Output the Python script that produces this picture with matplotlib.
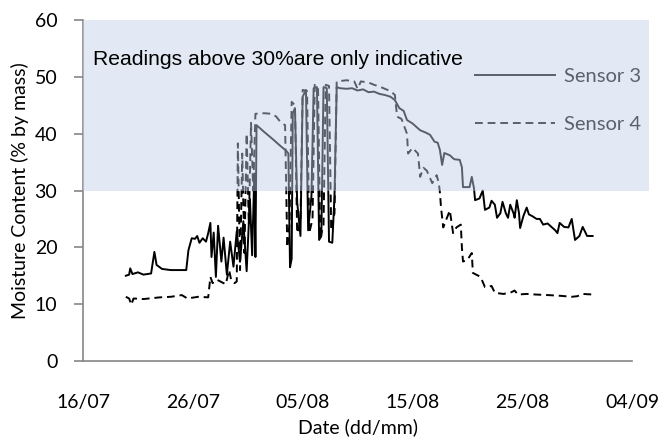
import matplotlib
matplotlib.use("Agg")
import matplotlib.pyplot as plt
from matplotlib.lines import Line2D

# x = days after 16/07, y = moisture content (% by mass)
s3_day = [3.9, 4.2, 4.3, 4.5, 5.0, 5.5, 6.2, 6.5, 6.7, 7.2, 8.0, 9.4, 9.6, 9.9, 10.2,
          10.4, 10.6, 10.9, 11.2, 11.4, 11.6, 11.7, 11.9, 12.1, 12.3, 12.6, 12.8, 13.1,
          13.4, 13.7, 14.0, 14.3, 14.6, 14.9, 15.2, 15.4, 15.6, 15.7, 15.8, 16.5, 17.3,
          18.0, 18.5, 18.7, 18.85, 19.0, 19.1, 19.3, 19.5, 19.8, 20.0, 20.3, 20.5, 20.8,
          21.0, 21.3, 21.5, 21.7, 21.9, 22.2, 22.4, 22.7, 22.9, 23.1, 23.4, 24.0, 24.5,
          25.0, 25.5, 26.0, 26.5, 27.0, 27.5, 28.0, 28.4, 28.8, 29.2, 29.5, 30.0, 30.7,
          31.2, 31.6, 32.0, 32.3, 32.5, 32.7, 32.9, 33.4, 33.8, 34.3, 34.5, 34.6, 35.2,
          35.4, 35.6, 35.7, 36.1, 36.4, 36.6, 37.0, 37.2, 37.5, 37.7, 38.0, 38.2, 38.5,
          38.7, 38.9, 39.2, 39.3, 39.5, 39.7, 39.8, 40.1, 40.4, 40.6, 40.9, 41.3, 41.6,
          41.9, 42.3, 42.7, 43.0, 43.2, 43.4, 43.8, 44.2, 44.5, 44.8, 45.2, 45.5, 45.9,
          46.4]
s3_val = [15.0, 15.2, 16.3, 15.3, 15.6, 15.2, 15.4, 19.2, 16.9, 16.2, 16.0, 16.0, 19.5,
          21.6, 21.5, 22.0, 20.8, 21.6, 21.0, 22.5, 24.3, 18.3, 22.6, 14.8, 23.8, 17.5,
          21.7, 15.2, 21.0, 16.6, 22.8, 17.5, 24.6, 15.8, 28.5, 18.6, 33.0, 18.3, 41.5,
          40.3, 39.0, 37.8, 37.0, 36.5, 16.5, 18.0, 43.6, 44.5, 28.0, 22.0, 46.5, 47.7,
          23.0, 29.0, 48.0, 48.2, 21.3, 22.0, 48.2, 48.0, 21.0, 20.8, 29.0, 48.2, 48.0,
          47.9, 48.0, 47.6, 47.8, 47.3, 47.4, 47.0, 46.8, 46.5, 45.9, 44.5, 44.0, 42.4,
          41.8, 40.6, 40.2, 39.8, 38.6, 38.4, 37.1, 34.5, 36.6, 36.2, 35.5, 35.4, 34.1,
          30.6, 30.6, 32.4, 30.4, 28.3, 28.6, 30.0, 26.6, 27.0, 28.2, 27.5, 25.2, 26.0,
          28.0, 26.0, 25.2, 27.5, 26.0, 25.2, 28.3, 26.0, 23.4, 25.5, 27.0, 25.8, 25.5,
          25.0, 25.0, 24.0, 24.2, 23.5, 23.0, 22.5, 24.3, 23.6, 23.5, 25.0, 21.3, 22.0,
          23.6, 22.0, 22.0]

s4_day = [3.9, 4.2, 4.4, 4.6, 5.5, 6.0, 7.0, 8.0, 9.0, 9.5, 10.5, 11.4, 11.6, 11.8,
          12.2, 12.5, 13.0, 13.3, 13.5, 13.8, 14.0, 14.1, 14.3, 14.5, 14.7, 14.9, 15.1,
          15.3, 15.5, 15.7, 16.5, 17.2, 17.6, 18.0, 18.4, 18.6, 18.8, 19.0, 19.3, 19.5,
          19.8, 20.0, 20.4, 20.6, 20.9, 21.1, 21.4, 21.6, 21.9, 22.1, 22.4, 22.6, 22.9,
          23.1, 24.0, 24.7, 25.0, 25.3, 26.0, 26.5, 27.0, 27.6, 28.0, 28.4, 28.6, 29.0,
          29.5, 29.6, 30.0, 30.5, 30.7, 31.0, 31.3, 31.8, 32.2, 32.4, 32.5, 32.6, 32.8,
          33.1, 33.4, 33.7, 34.0, 34.4, 34.5, 34.6, 35.0, 35.4, 35.5, 36.0, 36.2, 36.6,
          37.2, 37.5, 38.3, 39.0, 39.3, 39.6, 40.4, 41.2, 42.3, 43.3, 44.5, 45.0, 45.5,
          46.4]
s4_val = [11.3, 11.0, 9.9, 11.0, 10.9, 11.0, 11.2, 11.3, 11.6, 11.0, 11.3, 11.2, 14.8,
          13.7, 14.3, 14.0, 13.5, 16.0, 14.2, 13.7, 14.0, 38.3, 16.0, 36.5, 19.0, 40.0,
          24.0, 41.9, 30.0, 43.5, 43.6, 43.5, 43.0, 42.0, 41.5, 20.0, 24.0, 45.6, 45.0,
          22.5, 24.5, 47.7, 47.5, 22.5, 25.0, 48.6, 48.3, 21.5, 24.0, 48.6, 48.4, 23.0,
          26.0, 49.2, 49.4, 49.2, 47.9, 49.2, 49.0, 48.6, 48.3, 47.8, 47.5, 46.8, 43.0,
          42.6, 40.0, 36.5, 37.5, 36.5, 32.4, 34.0, 33.5, 31.3, 32.7, 31.3, 29.6, 27.0,
          23.5, 25.0, 26.5, 22.5, 23.5, 24.0, 20.0, 17.5, 17.8, 19.0, 15.5, 15.0, 14.8,
          13.0, 13.2, 12.0, 11.8, 12.1, 12.4, 11.7, 11.8, 11.7, 11.6, 11.5, 11.3, 11.4,
          11.8, 11.7]

tick_days = [0, 10, 20, 30, 40, 50]
tick_labels = ["16/07", "26/07", "05/08", "15/08", "25/08", "04/09"]

fig = plt.figure(figsize=(6.64, 4.41), dpi=100)
ax = fig.add_axes([0.125, 0.1814, 0.827, 0.7732])

ax.plot(s3_day, s3_val, color="black", lw=1.4, zorder=2)
ax.plot(s4_day, s4_val, color="black", lw=1.4, ls=(0, (4, 2.5)), zorder=2)

# translucent band over the >30% readings
ax.axhspan(30, 60, xmin=0, xmax=1.03, color="#C4D1E9", alpha=0.46, lw=0,
           zorder=3, clip_on=False)
ax.text(0.9, 53.0, "Readings above 30%are only indicative", fontsize=15.2,
        family="Liberation Sans", va="center", zorder=4)

handles = [Line2D([], [], color="#5b616b", lw=1.4),
           Line2D([], [], color="#5b616b", lw=1.4, ls=(0, (4, 2.5)))]
leg = ax.legend(handles, ["Sensor 3", "Sensor 4"], loc="upper left",
                bbox_to_anchor=(0.695, 0.889), frameon=False,
                handlelength=4.0, handletextpad=0.45, labelspacing=1.55,
                borderpad=0, prop={"family": "Lato", "size": 14.5})
for t in leg.get_texts():
    t.set_color("#5b616b")

ax.set_xlim(0, 50)
ax.set_ylim(0, 60)
ax.set_yticks(range(0, 61, 10))
ax.set_xticks(tick_days)
ax.set_xticklabels(tick_labels)
for s in ["top", "right"]:
    ax.spines[s].set_visible(False)
for s in ["left", "bottom"]:
    ax.spines[s].set_color("#868686")
    ax.spines[s].set_linewidth(1.2)
ax.tick_params(axis="y", length=6.5, width=1.2, color="#868686", pad=12,
               labelsize=14)
ax.tick_params(axis="x", length=0, pad=24, labelsize=14)
for lab in ax.get_xticklabels() + ax.get_yticklabels():
    lab.set_family("Lato")

ax.set_xlabel("Date (dd/mm)", family="Lato", fontsize=14, labelpad=5)
ax.set_ylabel("Moisture Content (% by mass)", family="Lato", fontsize=14,
              labelpad=4)

fig.savefig("out.png", dpi=100)
